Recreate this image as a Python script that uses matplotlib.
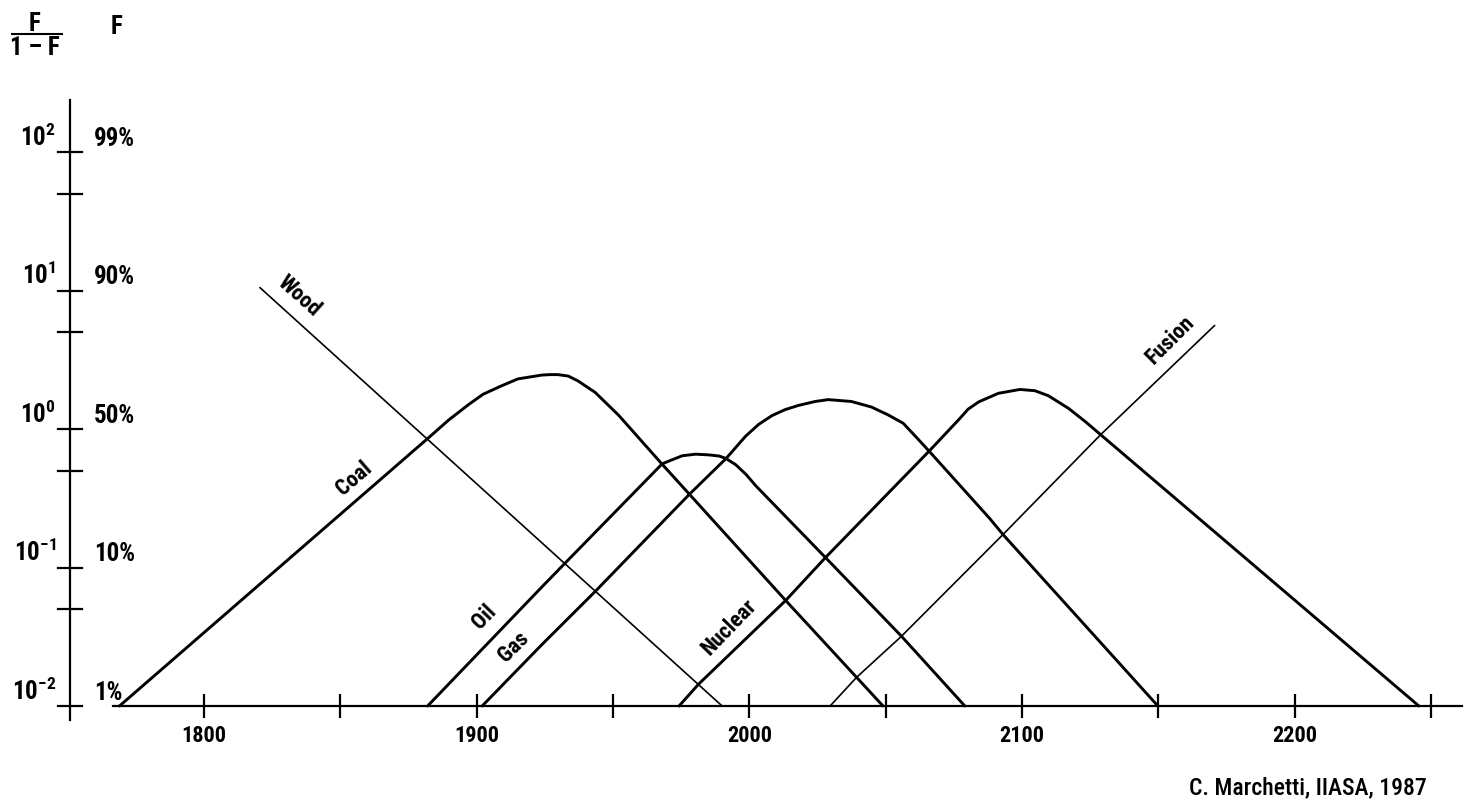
import matplotlib
matplotlib.use("Agg")
import matplotlib.pyplot as plt
from matplotlib import font_manager
from matplotlib.lines import Line2D

# market share curves: year and F/(1-F)
wood_year = [1820.5, 1990]
wood_ratio = [10.5, 0.01]

coal_year = [1769, 1882.5, 1889.7, 1897.0, 1902.3, 1909.1, 1915.1, 1923.8, 1926.8, 1929.8,
             1933.6, 1937.2, 1943.4, 1952.0, 1968.1, 1978.0, 2013.3, 2049]
coal_ratio = [0.01, 0.87, 1.16, 1.50, 1.78, 2.05, 2.30, 2.45, 2.47, 2.47,
              2.41, 2.22, 1.84, 1.26, 0.554, 0.338, 0.0578, 0.01]

oil_year = [1882, 1923.5, 1932.5, 1968.0, 1971.7, 1975.4, 1980.3, 1985.2, 1988.9, 1991.3,
            1995.0, 1998.8, 2002.4, 2027.9, 2055.7, 2079]
oil_ratio = [0.01, 0.071, 0.108, 0.56, 0.60, 0.641, 0.658, 0.650, 0.638, 0.614,
             0.552, 0.469, 0.388, 0.118, 0.032, 0.01]

gas_year = [1902, 1923.7, 1943.6, 1978.0, 1991.4, 1998.6, 2003.4, 2008.3, 2013.1, 2018.0,
            2024.1, 2028.9, 2037.4, 2044.8, 2051.0, 2056.4, 2060.9, 2065.9, 2088.2, 2093.0,
            2149.8]
gas_ratio = [0.01, 0.0275, 0.0676, 0.338, 0.611, 0.887, 1.08, 1.25, 1.38, 1.48,
             1.58, 1.63, 1.58, 1.44, 1.26, 1.10, 0.885, 0.692, 0.225, 0.173,
             0.01]

nuclear_year = [1974.2, 1981.4, 2013.3, 2027.9, 2065.9, 2076.8, 2080.2, 2084.1, 2091.3,
                2099.2, 2104.7, 2109.6, 2117.0, 2123.2, 2128.8, 2245.5]
nuclear_ratio = [0.01, 0.0144, 0.0578, 0.118, 0.692, 1.17, 1.39, 1.57, 1.81,
                 1.93, 1.89, 1.74, 1.41, 1.13, 0.91, 0.01]

fusion_year = [2029.6, 2039.3, 2055.7, 2093.0, 2128.8, 2170.6]
fusion_ratio = [0.01, 0.0161, 0.0318, 0.173, 0.91, 5.59]

x_major = [1800, 1900, 2000, 2100, 2200]
x_minor = [1850, 1950, 2050, 2150, 2250]
y_major = [1e-2, 1e-1, 1e0, 1e1, 1e2]
y_minor = [5e-2, 5e-1, 5e0, 5e1]
y_exp_labels = ["-2", "-1", "0", "1", "2"]
y_pct_labels = ["1%", "10%", "50%", "90%", "99%"]

# pixel layout of the scanned figure
W, H = 1469, 801
PX_PER_YEAR = 2.727
PX_PER_DECADE = 138.5
X1800_PX = 204
Y_ONE_PX = 429


def year_at(px):
    return 1800 + (px - X1800_PX) / PX_PER_YEAR


def ratio_at(py):
    return 10 ** ((Y_ONE_PX - py) / PX_PER_DECADE)


# condensed bold face, close to the Univers Condensed of the original
names = {f.name for f in font_manager.fontManager.ttflist}
FONT = "DejaVu Sans"
scale = 0.75
for cand in ["Roboto Condensed", "Archivo Narrow", "PT Sans Narrow", "Barlow Semi Condensed",
             "Asap Condensed"]:
    if cand in names:
        FONT = cand
        scale = 1.0
        break
plt.rcParams["font.family"] = [FONT, "DejaVu Sans"]
plt.rcParams["mathtext.fontset"] = "custom"
plt.rcParams["mathtext.rm"] = FONT
plt.rcParams["mathtext.bf"] = FONT + ":bold"

fig = plt.figure(figsize=(W / 100, H / 100), dpi=100)
ax = fig.add_axes([0, 0, 1, 1])
ax.set_yscale("log")
ax.set_xlim(year_at(0), year_at(W))
ax.set_ylim(ratio_at(H), ratio_at(0))
ax.axis("off")

# curves
thick, thin = 2.1, 1.2
for yrs, vals, lw in [(coal_year, coal_ratio, thick), (oil_year, oil_ratio, thick),
                      (gas_year, gas_ratio, thick), (nuclear_year, nuclear_ratio, thick),
                      (wood_year, wood_ratio, thin), (fusion_year, fusion_ratio, thin)]:
    ax.plot(yrs, vals, color="black", lw=lw, solid_joinstyle="round", solid_capstyle="round")

# axes drawn by hand, like the original
yax = year_at(70)
ax.plot([yax, yax], [ratio_at(720), ratio_at(100)], color="black", lw=1.6)
ax.plot([year_at(113), year_at(1462)], [0.01, 0.01], color="black", lw=1.6)

half = 12 / PX_PER_YEAR
for v in y_major + y_minor:
    ax.plot([yax - half, yax + half], [v, v], color="black", lw=1.6)
f = 10 ** (12 / PX_PER_DECADE)
ax.vlines(x_major + x_minor, 0.01 / f, 0.01 * f, color="black", lw=1.6)

up = 10 ** (1.5 / PX_PER_DECADE)
for v, e, p in zip(y_major, y_exp_labels, y_pct_labels):
    ax.text(year_at(56), v * up, r"$\mathbf{10^{%s}}$" % e, ha="right", va="bottom",
            fontsize=18 * scale)
    ax.text(year_at(94), v * up, p, ha="left", va="bottom", fontsize=18 * scale,
            fontweight="bold")

for yr in x_major:
    ax.text(yr, ratio_at(736), str(yr), ha="center", va="center", fontsize=16 * scale,
            fontweight="bold")

# curve names
for txt, yr, lg, rot in [("Wood", 1834.9, 0.956, -42), ("Coal", 1855.2, -0.355, 41),
                         ("Oil", 1902.8, -1.36, 46), ("Gas", 1913.6, -1.57, 45),
                         ("Nuclear", 1992.8, -1.43, 46), ("Fusion", 2154.4, 0.645, 45)]:
    ax.text(yr, 10 ** lg, txt, rotation=rot, rotation_mode="anchor", ha="center",
            va="center", fontsize=16 * scale, fontweight="bold")

# header
fig.text(35 / W, 1 - 24 / H, "F", ha="center", va="center", fontsize=18 * scale,
         fontweight="bold")
fig.text(35 / W, 1 - 48 / H, "1 \u2013 F", ha="center", va="center", fontsize=18 * scale,
         fontweight="bold")
fig.add_artist(Line2D([12 / W, 62 / W], [1 - 34 / H, 1 - 34 / H], color="black", lw=1.5,
                      transform=fig.transFigure))
fig.text(117 / W, 1 - 27 / H, "F", ha="center", va="center", fontsize=18 * scale,
         fontweight="bold")

fig.text(1427 / W, 1 - 788 / H, "C. Marchetti, IIASA, 1987", ha="right", va="center",
         fontsize=17 * scale, fontweight="medium")

fig.savefig("out.png", dpi=100, facecolor="white")
